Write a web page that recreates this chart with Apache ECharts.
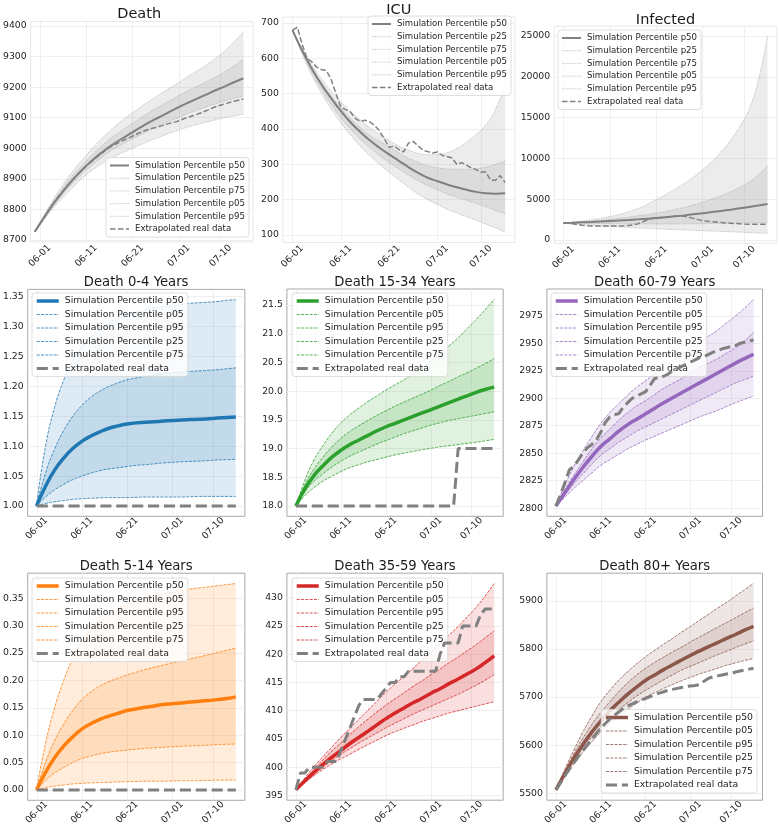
<!DOCTYPE html>
<html><head><meta charset="utf-8">
<script src="https://cdn.jsdelivr.net/npm/echarts@6/dist/echarts.min.js"></script>
<style>html,body{margin:0;padding:0;background:#fff}#c{width:779px;height:830px}</style>
</head><body><div id="c"></div>
<script>
// ---------- x axis ----------
const tickDays = [0, 10, 20, 30, 39];
const tickLabels = ['06-01', '06-11', '06-21', '07-01', '07-10'];
// simulation percentiles are read every 2 days: day 0, 2, ..., 44
const simDays = [0,2,4,6,8,10,12,14,16,18,20,22,24,26,28,30,32,34,36,38,40,42,44];
const firstCat = -2, lastCat = 46;

// ---------- Death ----------
const deathP50 = [8727,8775,8820,8860,8897,8930,8959,8985,9008,9028,9047,9066,9084,9100,9116,9132,9147,9161,9175,9189,9202,9216,9229];
const deathP25 = [8727,8772,8814,8852,8886,8918,8944,8969,8992,9009,9026,9042,9058,9072,9086,9099,9112,9124,9135,9145,9155,9163,9171];
const deathP75 = [8727,8779,8828,8872,8911,8945,8977,9006,9033,9054,9075,9096,9116,9134,9152,9169,9186,9201,9216,9232,9250,9270,9291];
const deathP05 = [8727,8768,8806,8840,8872,8902,8927,8948,8966,8982,8996,9010,9023,9035,9047,9058,9068,9077,9085,9093,9100,9106,9112];
const deathP95 = [8727,8782,8835,8882,8925,8962,8998,9030,9059,9086,9110,9132,9153,9173,9193,9212,9232,9251,9271,9293,9318,9348,9382];
const deathReal = [8727,8775,8822,8862,8898,8930,8957,8982,9005,9021,9035,9050,9062,9070,9080,9088,9100,9110,9122,9135,9145,9154,9161];
const deathTicks = [8700,8800,8900,9000,9100,9200,9300,9400];

// ---------- ICU ----------
const icuP50 = [680,622,571,526,487,451,419,392,368,347,328,310,292,276,262,252,243,235,228,222,218,217,218];
const icuP25 = [680,618,562,513,470,432,400,372,348,325,305,287,270,254,240,228,216,207,198,189,180,170,160];
const icuP75 = [680,625,575,532,494,460,430,404,382,365,350,333,318,306,296,290,287,286,286,288,292,300,310];
const icuP05 = [680,612,553,502,457,418,383,352,325,300,278,256,235,216,200,186,173,162,152,142,131,120,108];
const icuP95 = [680,628,582,542,507,477,450,426,404,385,368,352,340,331,327,328,333,345,362,384,412,455,525];
const icuReal = [680,688,640,600,590,575,568,566,540,500,462,455,448,430,422,425,420,410,395,372,
  348,352,342,335,360,365,352,340,336,332,335,325,322,318,300,305,298,290,285,278,278,255,255,268,248];
const icuTicks = [100,200,300,400,500,600,700];

// ---------- Infected ----------
const infP50 = [2100,2130,2170,2210,2260,2320,2385,2455,2530,2610,2690,2790,2900,3020,3150,3280,3420,3570,3720,3880,4050,4230,4420];
const infP25 = [2100,2080,2060,2040,2020,2000,1987,1977,1970,1965,1960,1964,1970,1980,1990,2005,2020,2040,2060,2085,2110,2140,2170];
const infP75 = [2100,2160,2230,2320,2420,2530,2660,2800,2960,3120,3300,3500,3730,4000,4300,4630,5000,5420,5900,6450,7100,7950,9100];
const infP05 = [2100,2000,1900,1820,1740,1670,1610,1550,1490,1435,1380,1330,1280,1235,1190,1145,1100,1055,1010,965,920,870,820];
const infP95 = [2100,2200,2320,2470,2650,2870,3130,3450,3850,4350,4950,5550,6200,6900,7700,8600,9600,10800,12200,13900,16000,19500,25000];
const infReal = [2100,2050,1990,1900,1820,1760,1720,1710,1710,1710,1720,1720,1730,1740,1780,1850,1980,2200,2450,2650,
  2700,2750,2800,2850,2900,2920,2900,2800,2650,2500,2380,2300,2250,2200,2150,2100,2060,2020,1980,1950,1930,1920,1920,1930,1950];
const infTicks = [0,5000,10000,15000,20000,25000];

// ---------- Death 0-4 ----------
const y04P50 = [1.000,1.033,1.060,1.080,1.096,1.108,1.117,1.124,1.130,1.134,1.137,1.139,1.140,1.141,1.142,1.143,1.144,1.1445,1.145,1.146,1.147,1.148,1.149];
const y04P05 = [1.000,1.004,1.007,1.009,1.011,1.012,1.013,1.0135,1.014,1.014,1.014,1.0145,1.015,1.015,1.015,1.015,1.015,1.0155,1.016,1.016,1.016,1.016,1.016];
const y04P95 = [1.000,1.100,1.165,1.210,1.243,1.266,1.283,1.296,1.306,1.314,1.320,1.324,1.328,1.331,1.333,1.335,1.337,1.339,1.340,1.341,1.342,1.344,1.345];
const y04P25 = [1.000,1.015,1.027,1.036,1.044,1.050,1.055,1.059,1.062,1.064,1.066,1.068,1.069,1.0705,1.072,1.073,1.074,1.0745,1.075,1.076,1.077,1.0775,1.078];
const y04P75 = [1.000,1.055,1.095,1.126,1.150,1.168,1.182,1.192,1.200,1.206,1.211,1.214,1.217,1.219,1.221,1.2225,1.224,1.225,1.226,1.227,1.228,1.2295,1.231];
const y04RealDays = [0, 44];
const y04Real = [1, 1];
const y04Ticks = [1.00,1.05,1.10,1.15,1.20,1.25,1.30,1.35];

// ---------- Death 15-34 ----------
const y1534P50 = [18.00,18.30,18.53,18.70,18.85,18.97,19.07,19.15,19.23,19.31,19.38,19.44,19.50,19.56,19.62,19.68,19.74,19.80,19.86,19.92,19.98,20.03,20.07];
const y1534P05 = [18.00,18.18,18.32,18.43,18.52,18.60,18.67,18.72,18.77,18.81,18.85,18.89,18.92,18.95,18.98,19.005,19.03,19.05,19.07,19.09,19.11,19.135,19.16];
const y1534P95 = [18.00,18.45,18.80,19.05,19.27,19.45,19.59,19.71,19.82,19.92,20.02,20.11,20.20,20.30,20.40,20.52,20.65,20.79,20.93,21.09,21.25,21.42,21.60];
const y1534P25 = [18.00,18.25,18.43,18.56,18.68,18.78,18.87,18.94,19.01,19.08,19.14,19.20,19.26,19.31,19.36,19.41,19.45,19.49,19.52,19.55,19.58,19.61,19.64];
const y1534P75 = [18.00,18.37,18.64,18.85,19.03,19.18,19.30,19.40,19.49,19.58,19.66,19.74,19.81,19.88,19.95,20.02,20.10,20.17,20.25,20.32,20.40,20.48,20.57];
const y1534Real = [18,18,18,18,18,18,18,18,18,18,18,18,18,18,18,18,18,18,18,18,18,18,18,18,18,18,18,18,18,18,18,18,18,18,18,18,
  19,19,19,19,19,19,19,19,19];
const y1534Ticks = [18.0,18.5,19.0,19.5,20.0,20.5,21.0,21.5];

// ---------- Death 60-79 ----------
const y6079P50 = [2802,2814,2826,2837,2847,2856,2863,2870,2876,2881,2886,2891,2896,2900.5,2905,2909.5,2914,2918.5,2923,2927.5,2932,2936,2940];
const y6079P05 = [2802,2810,2818,2825,2832,2839,2844,2849,2854,2858,2862,2865.5,2869,2872.5,2876,2879.5,2883,2886,2889,2892.5,2896,2899,2902];
const y6079P95 = [2802,2821,2838,2852,2865,2877,2887,2895,2903,2910,2916,2922,2928,2934,2940,2945.5,2951,2956.5,2962,2968.5,2975,2982,2990];
const y6079P25 = [2802,2812,2822,2831,2840,2848,2854,2860,2865,2870,2874,2878,2882,2886,2890,2894,2898,2902,2906,2910,2914,2917,2920];
const y6079P75 = [2802,2817,2830,2842,2854,2864,2872,2880,2887,2893,2898,2903.5,2909,2913.5,2918,2923,2928,2932,2936,2941,2946,2952,2960];
const y6079Real = [2802,2812,2823,2835,2838,2844,2850,2855,2858,2862,2869,2878,2883,2885,2886,2892,2896,2900,2902,2904,
  2906,2912,2918,2919,2920,2922,2925,2927,2929,2931,2933,2935,2937,2938,2940,2942,2943,2945,2946,2947,2948,2950,2951,2952,2953];
const y6079Ticks = [2800,2825,2850,2875,2900,2925,2950,2975];

// ---------- Death 5-14 ----------
const y514P50 = [0,0.032,0.059,0.080,0.097,0.111,0.121,0.129,0.135,0.140,0.145,0.148,0.151,0.1535,0.156,0.1575,0.159,0.1605,0.162,0.1635,0.165,0.167,0.170];
const y514P05 = [0,0.004,0.007,0.009,0.011,0.012,0.013,0.0135,0.014,0.0145,0.015,0.0155,0.016,0.016,0.016,0.0165,0.017,0.017,0.017,0.0175,0.018,0.018,0.018];
const y514P95 = [0,0.085,0.150,0.200,0.240,0.270,0.292,0.308,0.320,0.330,0.338,0.345,0.350,0.354,0.358,0.361,0.364,0.367,0.369,0.371,0.373,0.375,0.377];
const y514P25 = [0,0.017,0.031,0.041,0.050,0.057,0.062,0.066,0.069,0.071,0.073,0.0745,0.076,0.077,0.078,0.079,0.080,0.0805,0.081,0.082,0.083,0.0835,0.084];
const y514P75 = [0,0.050,0.090,0.120,0.145,0.165,0.179,0.190,0.198,0.204,0.210,0.215,0.220,0.224,0.228,0.232,0.236,0.2395,0.243,0.247,0.251,0.255,0.259];
const y514RealDays = [0, 44];
const y514Real = [0, 0];
const y514Ticks = [0,0.05,0.10,0.15,0.20,0.25,0.30,0.35];

// ---------- Death 35-59 ----------
const y3559P50 = [396.0,397.6,399.1,400.5,401.8,403.0,404.2,405.3,406.4,407.5,408.6,409.6,410.5,411.4,412.2,413.1,413.9,414.8,415.6,416.5,417.4,418.5,419.7];
const y3559P05 = [396.0,397.3,398.5,399.6,400.6,401.5,402.3,403.2,404.0,404.8,405.6,406.3,406.9,407.5,408.1,408.6,409.1,409.6,410.0,410.4,410.8,411.2,411.6];
const y3559P95 = [396.0,398.1,400.1,401.9,403.6,405.3,406.9,408.5,410.1,411.7,413.3,414.7,416.1,417.5,419.0,420.4,421.9,423.4,424.9,426.6,428.3,430.3,432.5];
const y3559P25 = [396.0,397.5,398.8,400.0,401.2,402.3,403.3,404.3,405.2,406.1,407.0,407.8,408.6,409.4,410.1,410.8,411.5,412.2,412.9,413.7,414.5,415.4,416.4];
const y3559P75 = [396.0,397.8,399.6,401.3,402.9,404.3,405.8,407.2,408.5,409.8,411.0,412.1,413.2,414.3,415.3,416.4,417.4,418.5,419.5,420.6,421.7,422.9,424.1];
const y3559Real = [396,399,399,400,400,400,400,401,401,401,403,405,407,409,411,412,412,412,412,413,
  414,415,415,416,416,417,417,417,417,417,417,417,420,422,422,422,422,425,425,425,425,427,428,428,428];
const y3559Ticks = [395,400,405,410,415,420,425,430];

// ---------- Death 80+ ----------
const y80P50 = [5507,5541,5573,5601,5627,5650,5671,5689,5706,5721,5735,5746,5757,5767,5777,5787,5796,5805,5813,5822,5830,5839,5847];
const y80P05 = [5507,5535,5561,5585,5607,5627,5644,5659,5674,5687,5700,5709,5718,5726,5734,5741,5748,5754,5760,5766,5771,5776,5780];
const y80P95 = [5507,5550,5590,5627,5660,5690,5714,5735,5753,5769,5784,5797,5810,5822,5835,5847,5860,5872,5885,5897,5910,5923,5936];
const y80P25 = [5507,5538,5567,5593,5617,5638,5657,5674,5688,5702,5714,5725,5736,5746,5756,5764,5772,5780,5788,5795,5803,5810,5817];
const y80P75 = [5507,5545,5582,5614,5643,5668,5690,5711,5730,5746,5760,5772,5783,5794,5804,5815,5825,5835,5845,5855,5865,5875,5885];
const y80Real = [5507,5521,5536,5550,5563,5576,5588,5600,5612,5624,5635,5645,5654,5662,5669,5676,5681,5686,5690,5694,
  5697,5701,5705,5708,5711,5714,5716,5718,5720,5722,5723,5724,5726,5733,5739,5742,5744,5746,5748,5749,5752,5754,5756,5758,5760];
const y80Ticks = [5500,5600,5700,5800,5900];

const LBL = {
  p50: 'Simulation Percentile p50', p25: 'Simulation Percentile p25', p75: 'Simulation Percentile p75',
  p05: 'Simulation Percentile p05', p95: 'Simulation Percentile p95', real: 'Extrapolated real data'
};
const daily = n => Array.from({length: n}, (_, i) => i);

// ---------- panel layout ----------
const panels = [
  {title:'Death', top:true, color:'#808080', grid:[25.3,21.5,227.7,220.3], titleTop:6.5, ticks:deathTicks, dec:0,
   s:{p50:deathP50,p25:deathP25,p75:deathP75,p05:deathP05,p95:deathP95}, real:deathReal, realDays:simDays, realSmooth:true,
   order:['p50','p25','p75','p05','p95','real'], legend:{right:530,bottom:593}},
  {title:'ICU', top:true, color:'#808080', grid:[282.8,17,232,225.4], titleTop:2.5, ticks:icuTicks, dec:0,
   s:{p50:icuP50,p25:icuP25,p75:icuP75,p05:icuP05,p95:icuP95}, real:icuReal, realDays:daily(icuReal.length),
   order:['p50','p25','p75','p05','p95','real'], legend:{right:268,top:16}},
  {title:'Infected', top:true, color:'#808080', grid:[554.2,26.1,222.6,217.1], titleTop:13, ticks:infTicks, dec:0,
   s:{p50:infP50,p25:infP25,p75:infP75,p05:infP05,p95:infP95}, real:infReal, realDays:daily(infReal.length),
   order:['p50','p25','p75','p05','p95','real'], legend:{left:558,top:30}},
  {title:'Death 0-4 Years', color:'#1f77b4', grid:[27.4,289.4,217.5,226.9], titleTop:276.5, ticks:y04Ticks, dec:2,
   s:{p50:y04P50,p05:y04P05,p95:y04P95,p25:y04P25,p75:y04P75}, real:y04Real, realDays:y04RealDays,
   order:['p50','p05','p95','p25','p75','real'], legend:{left:32,top:293}},
  {title:'Death 15-34 Years', color:'#2ca02c', grid:[286.9,289,216.3,227.3], titleTop:276.5, ticks:y1534Ticks, dec:1,
   s:{p50:y1534P50,p05:y1534P05,p95:y1534P95,p25:y1534P25,p75:y1534P75}, real:y1534Real, realDays:daily(y1534Real.length),
   order:['p50','p05','p95','p25','p75','real'], legend:{left:292,top:293}},
  {title:'Death 60-79 Years', color:'#9467bd', grid:[546.9,289,215.6,227.3], titleTop:276.5, ticks:y6079Ticks, dec:0,
   s:{p50:y6079P50,p05:y6079P05,p95:y6079P95,p25:y6079P25,p75:y6079P75}, real:y6079Real, realDays:daily(y6079Real.length),
   order:['p50','p05','p95','p25','p75','real'], legend:{left:551,top:293}},
  {title:'Death 5-14 Years', color:'#ff7f0e', grid:[27.4,573.2,217.5,227.1], titleTop:560.5, ticks:y514Ticks, dec:2,
   s:{p50:y514P50,p05:y514P05,p95:y514P95,p25:y514P25,p75:y514P75}, real:y514Real, realDays:y514RealDays,
   order:['p50','p05','p95','p25','p75','real'], legend:{left:32,top:578}},
  {title:'Death 35-59 Years', color:'#d62728', grid:[286.9,573.2,216.3,227], titleTop:560.5, ticks:y3559Ticks, dec:0,
   s:{p50:y3559P50,p05:y3559P05,p95:y3559P95,p25:y3559P25,p75:y3559P75}, real:y3559Real, realDays:daily(y3559Real.length),
   order:['p50','p05','p95','p25','p75','real'], legend:{left:292,top:578}},
  {title:'Death 80+ Years', color:'#8c564b', grid:[546.9,573.2,215.6,227], titleTop:560.5, ticks:y80Ticks, dec:0,
   s:{p50:y80P50,p05:y80P05,p95:y80P95,p25:y80P25,p75:y80P75}, real:y80Real, realDays:daily(y80Real.length),
   order:['p50','p05','p95','p25','p75','real'], legend:{right:22,bottom:37}}
];

const cats = [];
for (let d = firstCat; d <= lastCat; d++) cats.push(String(d));
const simCats = simDays.map(String);
function onCats(days, vals) {
  const a = cats.map(() => null);
  days.forEach((d, k) => { a[d - firstCat] = vals[k]; });
  return a;
}
function rgba(hex, a) {
  const n = parseInt(hex.slice(1), 16);
  return `rgba(${n >> 16},${(n >> 8) & 255},${n & 255},${a})`;
}
const FONT = 'DejaVu Sans';
const isTick = (idx, val) => tickDays.indexOf(+val) >= 0;
const span = lastCat - firstCat;

const option = { animation: false, title: [], grid: [], xAxis: [], yAxis: [], legend: [], series: [] };

panels.forEach((p, i) => {
  const [gl, gt, gw, gh] = p.grid;
  const dayPx = gw / span;
  const gMain = 2 * i, gSim = 2 * i + 1;
  option.grid.push({ left: gl, top: gt, width: gw, height: gh, show: true, backgroundColor: 'transparent',
    borderColor: p.top ? '#e8e8e8' : '#a8a8a8', borderWidth: 1 });
  // hidden grid spanning exactly the simulated days, for the 2-day sampled curves
  option.grid.push({ left: gl + (simDays[0] - firstCat) * dayPx, top: gt,
    width: (simDays[simDays.length - 1] - simDays[0]) * dayPx, height: gh, show: false });
  option.title.push({ text: p.title, left: gl + gw / 2, top: p.titleTop, textAlign: 'center', padding: 0,
    textStyle: { fontFamily: FONT, fontWeight: 'normal', fontSize: p.top ? 14.5 : 13.2, color: '#1a1a1a' } });

  const all = [].concat(p.s.p05, p.s.p95, p.s.p25, p.s.p75, p.s.p50, p.real);
  const lo = Math.min(...all), hi = Math.max(...all), pad = (hi - lo) * 0.05;
  option.xAxis.push({ type: 'category', gridIndex: gMain, data: cats, boundaryGap: false,
    axisLine: { show: false }, axisTick: { show: false },
    axisLabel: { interval: isTick, formatter: v => tickLabels[tickDays.indexOf(+v)], rotate: 45,
      align: 'center', verticalAlign: 'middle', margin: p.top ? 14 : 12, fontFamily: FONT, fontSize: 9.3, color: '#262626' },
    splitLine: { show: true, interval: isTick, lineStyle: { color: '#ebebeb', width: 0.8 } } });
  option.xAxis.push({ type: 'category', gridIndex: gSim, data: simCats, boundaryGap: false, show: false });
  option.yAxis.push({ type: 'value', gridIndex: gMain, min: lo - pad, max: hi + pad,
    axisLine: { show: false }, axisTick: { show: false, customValues: p.ticks },
    axisLabel: { customValues: p.ticks, formatter: v => Number(v).toFixed(p.dec), margin: 4,
      fontFamily: FONT, fontSize: 9.3, color: '#262626' },
    splitLine: { show: true, lineStyle: { color: '#ebebeb', width: 0.8 } } });
  option.yAxis.push({ type: 'value', gridIndex: gSim, min: lo - pad, max: hi + pad, show: false,
    splitLine: { show: false } });

  const onSim = { type: 'line', xAxisIndex: gSim, yAxisIndex: gSim, symbol: 'none', smooth: true, clip: false };
  const onMain = { type: 'line', xAxisIndex: gMain, yAxisIndex: gMain, symbol: 'none', connectNulls: true, clip: false };
  // bands: p05..p95 and p25..p75
  [['p05', 'p95'], ['p25', 'p75']].forEach(([a, b], k) => {
    const lowV = p.s[a], highV = p.s[b];
    const st = 'band' + i + '_' + k;
    option.series.push(Object.assign({}, onSim, { data: lowV, stack: st, stackStrategy: 'all',
      lineStyle: { width: 0, opacity: 0 }, silent: true, z: 1 }));
    option.series.push(Object.assign({}, onSim, { data: highV.map((v, j) => v - lowV[j]),
      stack: st, stackStrategy: 'all', lineStyle: { width: 0, opacity: 0 },
      areaStyle: { color: rgba(p.color, 0.15), opacity: 1 }, silent: true, z: 1 }));
  });
  const legendData = [];
  p.order.forEach(key => {
    const nm = LBL[key] + '|' + i;
    if (key === 'real') {
      const w = p.top ? 1.5 : 3;
      const ls = { color: '#808080', width: w, type: [3.7 * w, 1.6 * w] };
      legendData.push({ name: nm, lineStyle: { width: w } });
      if (p.realDays === simDays) {
        option.series.push(Object.assign({}, onSim, { name: nm, data: p.real, z: 4, smooth: !!p.realSmooth, lineStyle: ls }));
      } else {
        option.series.push(Object.assign({}, onMain, { name: nm, data: onCats(p.realDays, p.real), z: 4, lineStyle: ls }));
      }
    } else if (key === 'p50') {
      const w = p.top ? 2 : 3.5;
      legendData.push({ name: nm, lineStyle: { width: w } });
      option.series.push(Object.assign({}, onSim, { name: nm, data: p.s.p50, z: 3,
        lineStyle: { color: p.color, width: w } }));
    } else {
      const ls = p.top ? { color: '#a8a8a8', width: 0.6, type: [1.5, 1] }
                       : { color: p.color, width: 0.8, type: [3, 1.3] };
      legendData.push({ name: nm, lineStyle: { width: ls.width } });
      option.series.push(Object.assign({}, onSim, { name: nm, data: p.s[key], z: 2, lineStyle: ls }));
    }
  });
  option.legend.push(Object.assign({ data: legendData, orient: 'vertical', selectedMode: false,
    formatter: n => n.split('|')[0], itemWidth: p.top ? 19 : 22, itemHeight: 8, itemGap: p.top ? 2.7 : 3.5,
    padding: [3, 4, 3, 3], backgroundColor: 'rgba(255,255,255,0.8)', borderColor: '#d6d6d6', borderWidth: 0.8,
    borderRadius: 3, itemStyle: { opacity: 0 },
    textStyle: { fontFamily: FONT, fontSize: p.top ? 8.6 : 9.3, color: '#262626', lineHeight: 10, padding: [0, 0, 0, 1] } }, p.legend));
});

const chart = echarts.init(document.getElementById('c'), null, { renderer: 'canvas' });
chart.setOption(option);
</script></body></html>
